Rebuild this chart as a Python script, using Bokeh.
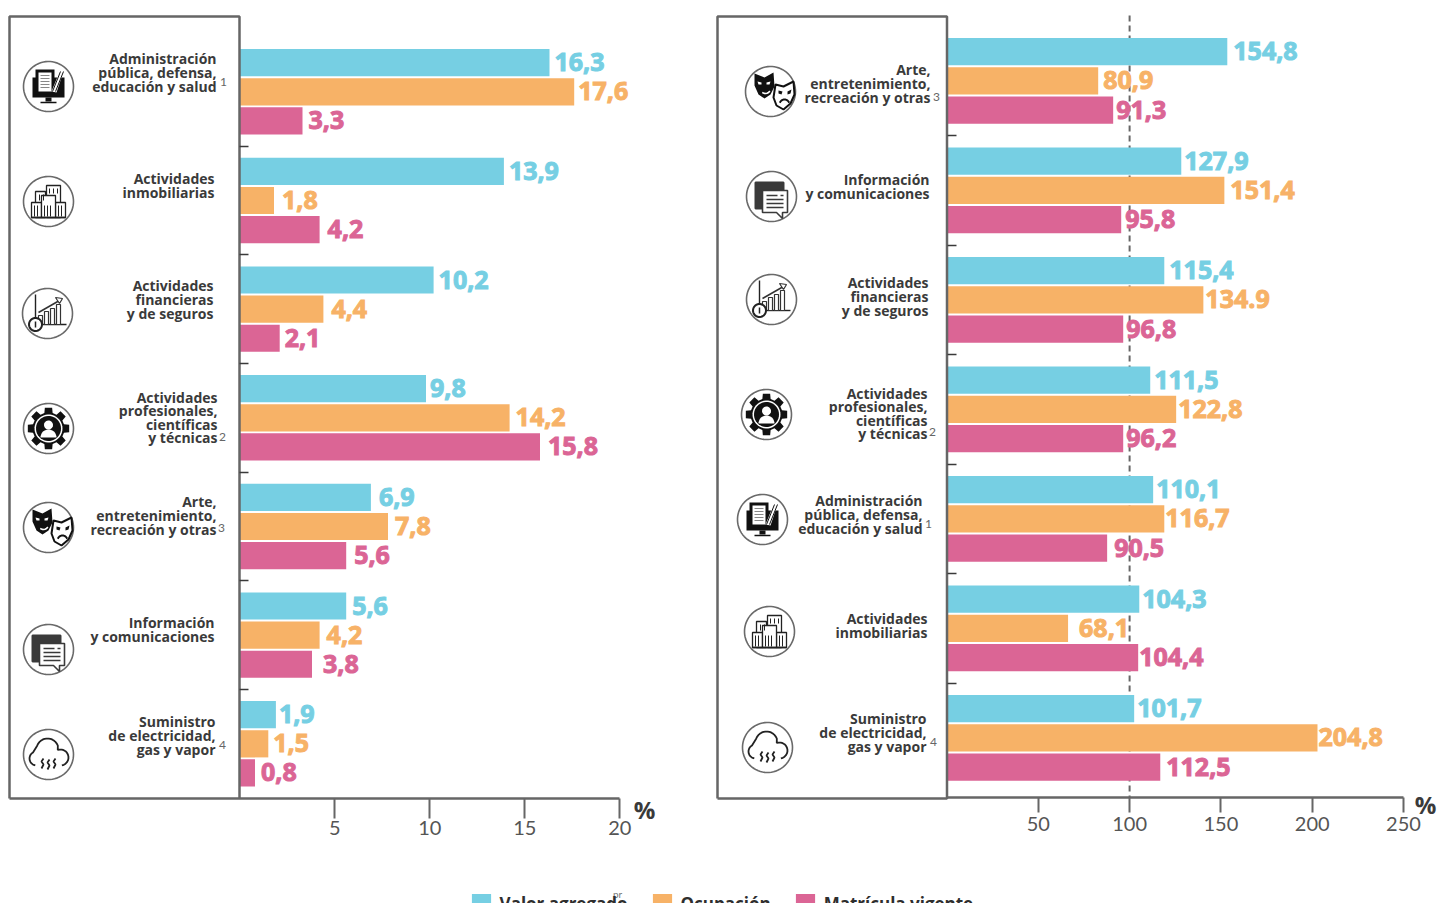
import numpy as np
from bokeh.embed import file_html
from bokeh.resources import INLINE
from bokeh.plotting import figure
from bokeh.models import (ColumnDataSource, Range1d, LinearAxis, FixedTicker, Legend, LegendItem)
from bokeh.core.properties import value

# ---------- data ----------
LEFT_CATS = ["Administración\npública, defensa,\neducación y salud", "Actividades\ninmobiliarias",
             "Actividades\nfinancieras\ny de seguros", "Actividades\nprofesionales,\ncientíficas\ny técnicas",
             "Arte,\nentretenimiento,\nrecreación y otras", "Información\ny comunicaciones",
             "Suministro\nde electricidad,\ngas y vapor"]
LEFT_VALOR = [16.3, 13.9, 10.2, 9.8, 6.9, 5.6, 1.9]
LEFT_OCUP = [17.6, 1.8, 4.4, 14.2, 7.8, 4.2, 1.5]
LEFT_MATR = [3.3, 4.2, 2.1, 15.8, 5.6, 3.8, 0.8]

RIGHT_CATS = ["Arte,\nentretenimiento,\nrecreación y otras", "Información\ny comunicaciones",
              "Actividades\nfinancieras\ny de seguros", "Actividades\nprofesionales,\ncientíficas\ny técnicas",
              "Administración\npública, defensa,\neducación y salud", "Actividades\ninmobiliarias",
              "Suministro\nde electricidad,\ngas y vapor"]
# printed labels of the right panel
RIGHT_VALOR_TXT = ["154,8", "127,9", "115,4", "111,5", "110,1", "104,3", "101,7"]
RIGHT_OCUP_TXT = ["80,9", "151,4", "134.9", "122,8", "116,7", "68,1", "204,8"]
RIGHT_MATR_TXT = ["91,3", "95,8", "96,8", "96,2", "90,5", "104,4", "112,5"]
# bar lengths of the right panel as read against its axis
RIGHT_VALOR = [153.5, 128.3, 119.0, 111.3, 112.9, 105.3, 102.5]
RIGHT_OCUP = [82.8, 151.9, 140.4, 125.5, 119.0, 66.3, 202.9]
RIGHT_MATR = [91.0, 95.4, 96.5, 96.5, 87.7, 104.7, 116.8]

LEFT_TICKS = [5, 10, 15, 20]
RIGHT_TICKS = [50, 100, 150, 200, 250]
SERIES = ["Valor agregado", "Ocupación", "Matrícula vigente"]

# ---------- layout (page pixels) ----------
W, H = 1437, 903
PX0, PY0 = 0, 0
TEAL, ORANGE, PINK = "#76CFE3", "#F7B267", "#DB6595"
GREY, DARK = "#666666", "#3A3A3A"
L_ZERO, L_SCALE = 239.3, 19.0
R_ZERO, R_SCALE = 946.5, 1.826
L_Y0, L_DY = 91.3, 108.67
R_Y0, R_DY = 80.4, 109.5
DODGE = 0.268
BAR_H = 0.25

LBL = "Open Sans"
CAT = "Open Sans"

p = figure(width=W, height=H, toolbar_location=None, output_backend="svg",
           x_axis_type=None, y_axis_type=None,
           x_range=Range1d((PX0 - L_ZERO) / L_SCALE, (PX0 + W - L_ZERO) / L_SCALE),
           y_range=Range1d((PY0 + H - L_Y0) / L_DY, (PY0 - L_Y0) / L_DY),
           min_border=0, outline_line_color=None, background_fill_color="white")
p.grid.visible = False
p.extra_x_ranges = {"rx": Range1d((PX0 - R_ZERO) / R_SCALE, (PX0 + W - R_ZERO) / R_SCALE),
                    "px": Range1d(PX0, PX0 + W)}
p.extra_y_ranges = {"ry": Range1d((PY0 + H - R_Y0) / R_DY, (PY0 - R_Y0) / R_DY),
                    "px": Range1d(PY0 + H, PY0)}
PXK = dict(x_range_name="px", y_range_name="px")
RK = dict(x_range_name="rx", y_range_name="ry")

# reference line at 100
p.segment(x0=[100], x1=[100], y0=[(15 - R_Y0) / R_DY], y1=[(797 - R_Y0) / R_DY],
          line_color=GREY, line_width=2, line_dash="6 4", **RK)

# bars
rows = np.arange(7)
items = []
for k, (name, vals, col) in enumerate(zip(SERIES, (LEFT_VALOR, LEFT_OCUP, LEFT_MATR), (TEAL, ORANGE, PINK))):
    r = p.hbar(y=rows + (k - 1) * DODGE, left=0, right=vals, height=BAR_H, fill_color=col, line_color=None)
    items.append(LegendItem(label=name, renderers=[r]))
for k, (vals, col) in enumerate(zip((RIGHT_VALOR, RIGHT_OCUP, RIGHT_MATR), (TEAL, ORANGE, PINK))):
    p.hbar(y=rows + (k - 1) * DODGE, left=0, right=vals, height=BAR_H * 109 / 109.5, fill_color=col, line_color=None, **RK)

# panels
for lft, rgt in [(9, 239), (717, 946.5)]:
    p.line([lft, lft, rgt, rgt, lft], [798, 16, 16, 798, 798], line_color=GREY, line_width=2.5, **PXK)

# value labels (horizontal gap after each bar, px)
L_GAPS = [[5, 5, 5, 4, 8, 6, 3], [4, 8, 8, 6, 7, 7, 5], [6, 8, 5, 8, 8, 11, 6]]
R_GAPS = [[6, 3, 5, 4, 3, 3, 3], [5, 6, 2, 2, 1, 11, 1], [3, 4, 3, 3, 7, 1, 6]]
fmt = lambda v: f"{v:.1f}".replace(".", ",")
LABEL_STYLE = dict(text_font=value(LBL), text_font_style="bold", text_font_size="25px",
                   text_baseline="middle", text_align="left", y_offset=-0.5)
for k, (vals, col) in enumerate(zip((LEFT_VALOR, LEFT_OCUP, LEFT_MATR), (TEAL, ORANGE, PINK))):
    src = ColumnDataSource(dict(x=vals, y=rows + (k - 1) * DODGE, t=[fmt(v) for v in vals], g=L_GAPS[k]))
    p.text(x="x", y="y", text="t", x_offset="g", source=src, text_color=col, text_outline_color=col, **LABEL_STYLE)
for k, (vals, txt, col) in enumerate(zip((RIGHT_VALOR, RIGHT_OCUP, RIGHT_MATR),
                                         (RIGHT_VALOR_TXT, RIGHT_OCUP_TXT, RIGHT_MATR_TXT), (TEAL, ORANGE, PINK))):
    src = ColumnDataSource(dict(x=vals, y=rows + (k - 1) * DODGE, t=txt, g=R_GAPS[k]))
    p.text(x="x", y="y", text="t", x_offset="g", source=src, text_color=col, text_outline_color=col, **LABEL_STYLE, **RK)

# category labels
L_LX = [216, 214, 213, 217, 216, 214, 215]
L_LY = [72, 185, 299, 417, 515, 629, 735]
R_LX = [930, 929, 928, 927, 922, 927, 926]
R_LY = [83, 186, 296, 413, 514, 625, 732]
for cats, xs, ys in [(LEFT_CATS, L_LX, L_LY), (RIGHT_CATS, R_LX, R_LY)]:
    for c, x, y in zip(cats, xs, ys):
        lines = c.split("\n")
        n = len(lines)
        ly = [y + (i - (n - 1) / 2) * 13.6 for i in range(n)]
        p.text(x=[x] * n, y=ly, text=lines, text_color=DARK, text_font=value(CAT), text_font_style="bold",
               text_font_size="14px", text_baseline="middle", text_align="right", **PXK)

# footnote marks
p.text(x=[223, 222, 221, 222, 936, 932, 928, 933], y=[81, 436, 527, 744, 96, 431, 523, 741],
       text=["1", "2", "3", "4", "3", "2", "1", "4"], text_color="#666666", text_font=value("Lato"),
       text_font_size="12px", text_baseline="middle", text_align="center", **PXK)
p.text(x=[644, 1425], y=[808.5, 804], text=["%", "%"], text_color=DARK, text_font=value(LBL),
       text_font_style="bold", text_font_size="24px", text_baseline="middle", text_align="center", **PXK)
p.text(x=[617], y=[893], text=["pr"], text_color="#777777", text_font=value("Lato"),
       text_font_size="10px", text_baseline="middle", text_align="center", **PXK)


# axes
def style_x(ax, ticks, tick_len, standoff):
    ax.ticker = FixedTicker(ticks=ticks)
    ax.bounds = (0, ticks[-1])
    ax.axis_line_color = GREY
    ax.axis_line_width = 2.5
    ax.major_tick_line_color = GREY
    ax.major_tick_line_width = 2
    ax.major_tick_out = tick_len
    ax.major_tick_in = 0
    ax.minor_tick_line_color = None
    ax.major_label_text_font = "Lato"
    ax.major_label_text_font_size = "20px"
    ax.major_label_text_color = "#555555"
    ax.major_label_standoff = standoff
    ax.major_label_overrides = {t: str(t) for t in ticks}


def style_y(ax, top, bottom):
    ticks = [0.5, 1.5, 2.5, 3.5, 4.5, 5.5]
    ax.ticker = FixedTicker(ticks=ticks)
    ax.bounds = (top, bottom)
    ax.axis_line_color = None
    ax.major_tick_line_color = DARK
    ax.major_tick_line_width = 1.5
    ax.major_tick_in = 9
    ax.major_tick_out = 0
    ax.minor_tick_line_color = None
    ax.major_label_overrides = {t: "" for t in ticks}


xl = LinearAxis(fixed_location=(798 - L_Y0) / L_DY)
style_x(xl, LEFT_TICKS, 20, 2)
p.add_layout(xl, "below")
xr = LinearAxis(fixed_location=(797 - R_Y0) / R_DY, **RK)
style_x(xr, RIGHT_TICKS, 15, 4)
p.add_layout(xr, "below")
yl = LinearAxis(fixed_location=0)
style_y(yl, (16 - L_Y0) / L_DY, (798 - L_Y0) / L_DY)
p.add_layout(yl, "left")
yr = LinearAxis(fixed_location=0, **RK)
style_y(yr, (16 - R_Y0) / R_DY, (797 - R_Y0) / R_DY)
p.add_layout(yr, "left")


# ---------- icons (decoration, drawn in page pixels) ----------
def poly(cx, cy, pts, fill="#111111", line=None, w=1.0):
    a = np.array(pts, float)
    p.patch(cx + a[:, 0], cy + a[:, 1], fill_color=fill, line_color=line, line_width=w, **PXK)


def stroke(cx, cy, pts, color="#111111", w=1.2):
    a = np.array(pts, float)
    p.line(cx + a[:, 0], cy + a[:, 1], line_color=color, line_width=w, **PXK)


def box(x0, y0, x1, y1):
    return [(x0, y0), (x1, y0), (x1, y1), (x0, y1)]


def arc(x, y, r, a0, a1, n=24):
    t = np.radians(np.linspace(a0, a1, n))
    return list(zip(x + r * np.cos(t), y + r * np.sin(t)))


def circle(cx, cy, r=25):
    poly(cx, cy, arc(0, 0, r, 0, 360, 72), fill="white", line="#6A6A6A", w=1.6)


def ic_monitor(cx, cy):
    poly(cx, cy, box(-16, -9, 16, 11))
    poly(cx, cy, box(-13, -17, 6, 8))
    poly(cx, cy, box(-10, -14, 3, 5), fill="white")
    for y in (-11, -8, -5, -2, 1):
        stroke(cx, cy, [(-8, y), (1, y)], "#888888", 1)
    poly(cx, cy, [(3, 5), (12, -17), (15, -15), (8, 6)], fill="white")
    for dx in (0, 3):
        stroke(cx, cy, [(4 + dx, 5), (12 + dx, -15)], "#111111", 1)
    poly(cx, cy, box(-3, 11, 3, 15))
    stroke(cx, cy, [(-8, 16), (8, 16)], "#111111", 1.5)


def ic_buildings(cx, cy):
    for b in [(-13, -10, -3, 16), (-2, -16, 12, 16), (-17, 1, -7, 16), (7, 1, 17, 16), (-7, -6, 7, 16)]:
        poly(cx, cy, box(*b), fill="white", line="#222222", w=1.3)
    for x in (-14, -11, -4, -1, 2, 10, 13):
        stroke(cx, cy, [(x, 4), (x, 15)], "#222222", 1)
    for x in (-9, -5, 1, 5, 9):
        stroke(cx, cy, [(x, -13 if x > 0 else -7), (x, -8 if x > 0 else -1)], "#222222", 1)
    stroke(cx, cy, [(-17, 16), (17, 16)], "#222222", 1.6)


def ic_finance(cx, cy):
    stroke(cx, cy, [(-12, -19), (-12, 6)], "#222222", 1.4)
    stroke(cx, cy, [(-8, 11), (19, 11)], "#222222", 1.4)
    for b in [(-9, 2, -5, 11), (-3, -2, 1, 11), (3, -5, 7, 11), (9, -9, 13, 11)]:
        poly(cx, cy, box(*b), fill="white", line="#333333", w=1.2)
    stroke(cx, cy, [(-9, -1), (12, -13)], "#333333", 1.5)
    poly(cx, cy, [(8, -16), (15, -15), (12, -10)], fill="white", line="#333333", w=1.2)
    poly(cx, cy, arc(-12, 11, 6.5, 0, 360, 30), fill="white", line="#222222", w=2)
    stroke(cx, cy, [(-12, 8), (-12, 14)], "#222222", 1.5)


def ic_gear(cx, cy):
    pts = []
    for i in range(8):
        a = i * 45
        for ang, r in [(a - 15, 16), (a - 10, 21), (a + 10, 21), (a + 15, 16)]:
            pts.append((r * np.cos(np.radians(ang)), r * np.sin(np.radians(ang))))
    poly(cx, cy, pts)
    poly(cx, cy, arc(0, 0, 14, 0, 360, 40), fill="white")
    poly(cx, cy, arc(0, 0, 12.5, 0, 360, 40))
    poly(cx, cy, arc(0, -3.5, 4.5, 0, 360, 24), fill="white")
    poly(cx, cy, arc(0, 9, 8, 180, 360, 20), fill="white")


def ic_masks(cx, cy):
    poly(cx, cy, [(5, -7), (13, -5), (23, -10), (24, 3), (20, 12), (13, 18), (6, 14), (3, 6)],
         fill="white", line="#111111", w=2)
    poly(cx, cy, [(8, -1), (12, 0), (11, 3), (8, 2)])
    poly(cx, cy, [(17, 0), (21, -2), (20, 2), (17, 3)])
    stroke(cx, cy, arc(14, 13, 5, 200, 340, 10), "#111111", 2)
    poly(cx, cy, [(-16, -18), (-6, -14), (3, -19), (4, -5), (0, 3), (-6, 7), (-12, 3), (-16, -6)])
    poly(cx, cy, [(-13, -10), (-9, -9), (-9, -7), (-12, -7)], fill="white")
    poly(cx, cy, [(-4, -9), (0, -10), (-1, -7), (-4, -7)], fill="white")
    stroke(cx, cy, arc(-5, -3, 5, 30, 130, 8), "white", 1.6)


def ic_chat(cx, cy):
    poly(cx, cy, box(-16, -14, 12, 12), fill="#3A3A3A", line="#3A3A3A", w=2)
    poly(cx, cy, [(-9, -6), (16, -6), (16, 16), (11, 16), (11, 22), (5, 16), (-9, 16)],
         fill="white", line="#3A3A3A", w=1.6)
    stroke(cx, cy, [(-5, -1), (6, -1)], "#3A3A3A", 1.6)
    stroke(cx, cy, [(9, -1), (12, -1)], "#3A3A3A", 1.6)
    for y in (3, 7, 11):
        stroke(cx, cy, [(-5, y), (12, y)], "#3A3A3A", 1.6)


def ic_cloud(cx, cy):
    pts = arc(-12, 4, 7, 100, 240, 12) + arc(-1, -5, 11, 200, 340, 14) + arc(12, 3, 8, 250, 440, 14)
    stroke(cx, cy, pts, "#222222", 1.8)
    for x, y0 in ((-6, 4), (0, 5), (6, 4)):
        stroke(cx, cy, [(x + 1, y0), (x - 1, y0 + 3), (x + 1, y0 + 6), (x - 1, y0 + 10)], "#222222", 1.8)


ICONS = [(ic_monitor, 48, 86), (ic_buildings, 48, 201), (ic_finance, 47, 313), (ic_gear, 48, 428),
         (ic_masks, 48, 527), (ic_chat, 48, 649), (ic_cloud, 48, 754),
         (ic_masks, 770, 91), (ic_chat, 771, 196), (ic_finance, 771, 299), (ic_gear, 766, 414),
         (ic_monitor, 762, 519), (ic_buildings, 769, 631), (ic_cloud, 767, 747)]
for fn, cx, cy in ICONS:
    circle(cx, cy)
    fn(cx, cy)

# legend
legend = Legend(items=items, orientation="horizontal", location=(468.6, -12.5), padding=0, margin=0, spacing=22,
                glyph_width=24, glyph_height=25, label_standoff=7, background_fill_alpha=0,
                border_line_color=None, label_text_font="Open Sans", label_text_font_style="bold",
                label_text_font_size="17px", label_text_color="#2E2E2E")
p.add_layout(legend, "center")

open("out.html", "w").write(file_html(p, INLINE))
